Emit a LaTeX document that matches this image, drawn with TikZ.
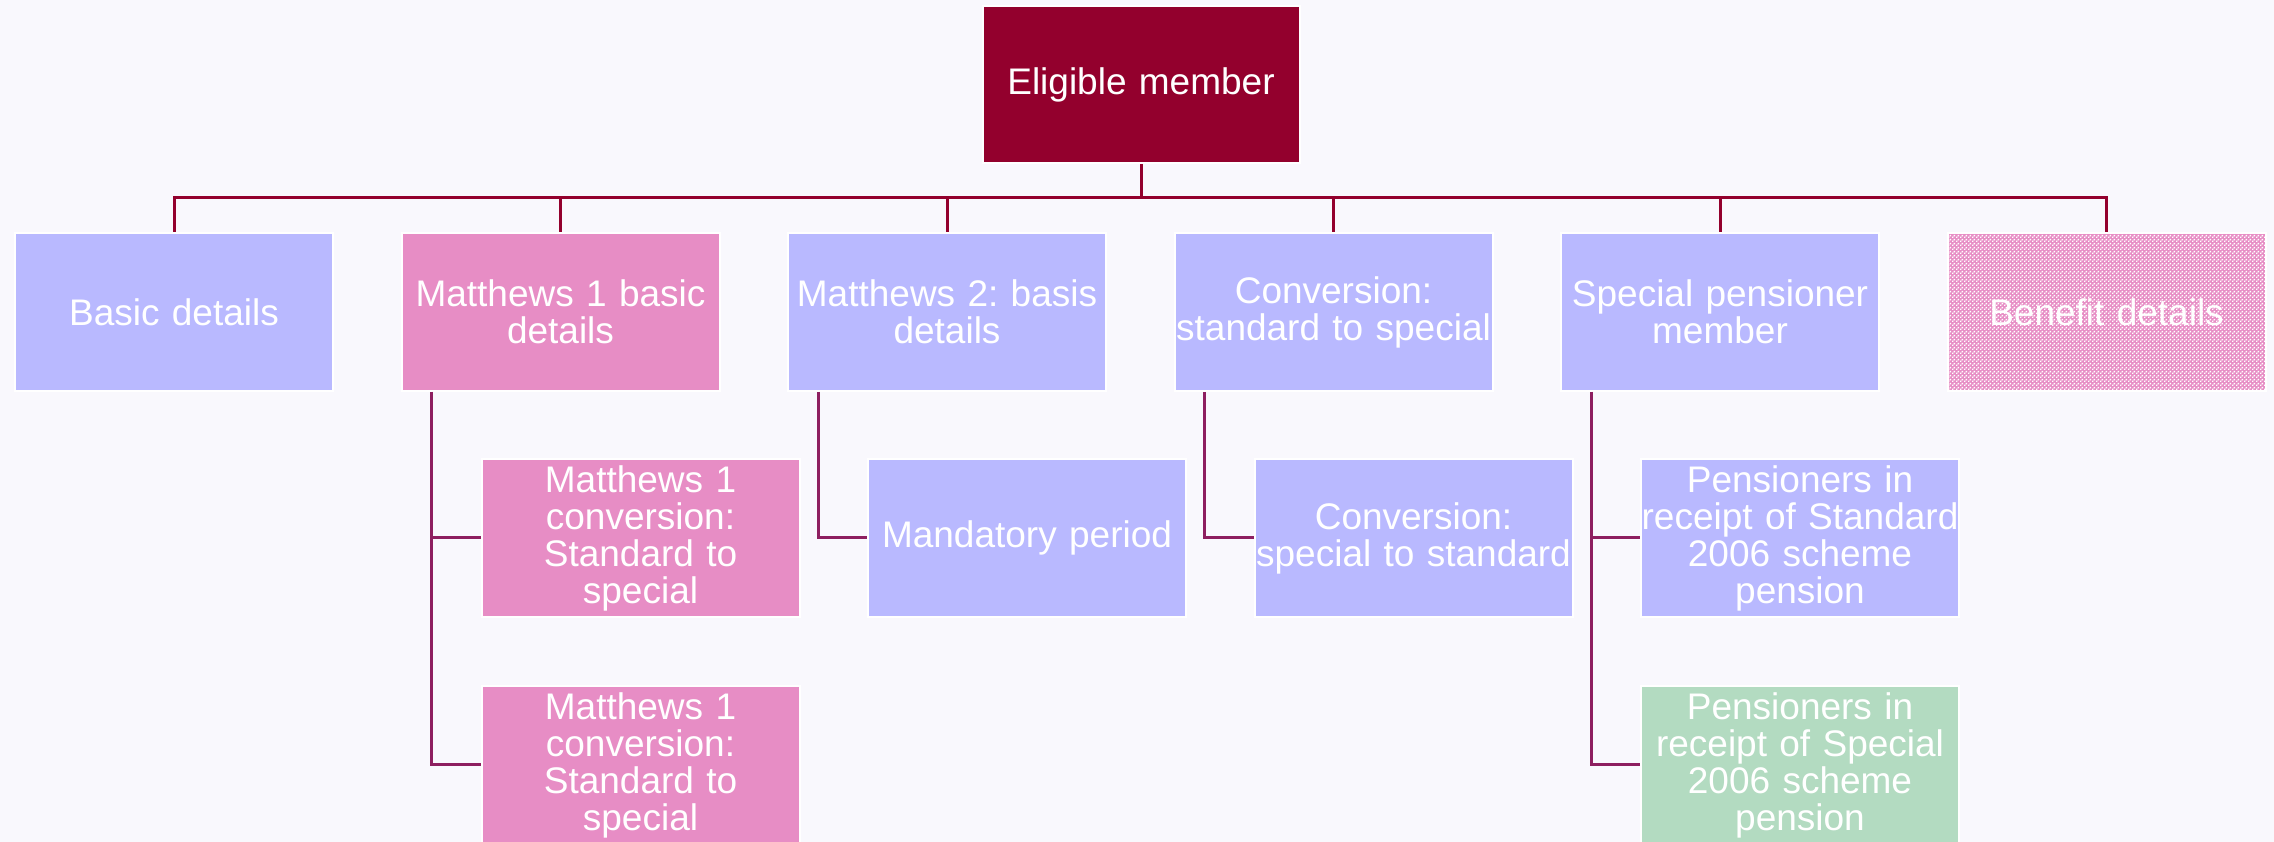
\documentclass[tikz,border=0pt]{standalone}
\usepackage{fontspec}
\setmainfont{Liberation Sans}
\usetikzlibrary{calc,patterns}
\definecolor{bgc}{HTML}{F9F8FD}
\definecolor{topc}{HTML}{93002D}
\definecolor{bluec}{HTML}{B9B9FF}
\definecolor{pinkc}{HTML}{E78DC5}
\definecolor{greenc}{HTML}{B3DBC1}
\definecolor{linec}{HTML}{8E1F60}
\pgfdeclarepatternformonly{checks}{\pgfqpoint{0pt}{0pt}}{\pgfqpoint{4pt}{4pt}}{\pgfqpoint{4pt}{4pt}}{%
  \pgfpathrectangle{\pgfqpoint{0pt}{0pt}}{\pgfqpoint{1.8pt}{1.8pt}}%
  \pgfpathrectangle{\pgfqpoint{2pt}{2pt}}{\pgfqpoint{1.8pt}{1.8pt}}%
  \pgfusepath{fill}}
\tikzset{
  box/.style={rectangle, draw=white, line width=2pt, inner sep=0pt,
    minimum width=318pt, minimum height=158pt, text width=318pt, align=center,
    text=white, font=\fontsize{37}{37}\selectfont\frenchspacing},
  bluebox/.style={box, fill=bluec},
  pinkbox/.style={box, fill=pinkc},
  greenbox/.style={box, fill=greenc},
  topline/.style={draw=topc, line width=3pt},
  subline/.style={draw=linec, line width=3pt},
}
\begin{document}
\begin{tikzpicture}[x=1pt,y=1pt]
\fill[bgc] (0,0) rectangle (2274,842);
\useasboundingbox (0,0) rectangle (2274,842);
\begin{scope}
\clip (0,0) rectangle (2274,842);
\node[box, fill=topc, minimum width=317pt, text width=317pt, minimum height=157pt] (top) at (1141,757) {Eligible member};
\coordinate (bar) at (0,644);
\node[bluebox] (basic) at (174,530) {Basic details};
\node[pinkbox] (m1) at (560.5,530) {Matthews 1 basic\\details};
\node[bluebox] (m2) at (947,530) {Matthews 2: basis\\details};
\node[bluebox] (conv) at (1333.5,530) {Conversion:\\standard to special};
\node[bluebox] (spm) at (1720,530) {Special pensioner\\member};
\node[box, fill=pinkc, postaction={pattern=checks, pattern color=white}] (ben) at (2106.5,530) {Benefit details};

\node[pinkbox] (m1a) at (640.5,304) {Matthews 1\\conversion:\\Standard to\\special};
\node[pinkbox] (m1b) at (640.5,77) {Matthews 1\\conversion:\\Standard to\\special};
\node[bluebox] (mand) at (1027,304) {Mandatory period};
\node[bluebox] (conv2) at (1413.5,304) {Conversion:\\special to standard};
\node[bluebox] (pstd) at (1800,304) {Pensioners in\\receipt of Standard\\2006 scheme\\pension};
\node[greenbox] (pspc) at (1800,77) {Pensioners in\\receipt of Special\\2006 scheme\\pension};

\foreach \c in {basic,m1,m2,conv,spm,ben}
  \draw[topline] (top.south) -- (top.south |- bar) -| (\c.north);

\draw[subline] ($(m1.south west)+(31,0)$) |- (m1a.west);
\draw[subline] ($(m1.south west)+(31,0)$) |- (m1b.west);
\draw[subline] ($(m2.south west)+(31,0)$) |- (mand.west);
\draw[subline] ($(conv.south west)+(31,0)$) |- (conv2.west);
\draw[subline] ($(spm.south west)+(31,0)$) |- (pstd.west);
\draw[subline] ($(spm.south west)+(31,0)$) |- (pspc.west);
\end{scope}
\end{tikzpicture}
\end{document}
